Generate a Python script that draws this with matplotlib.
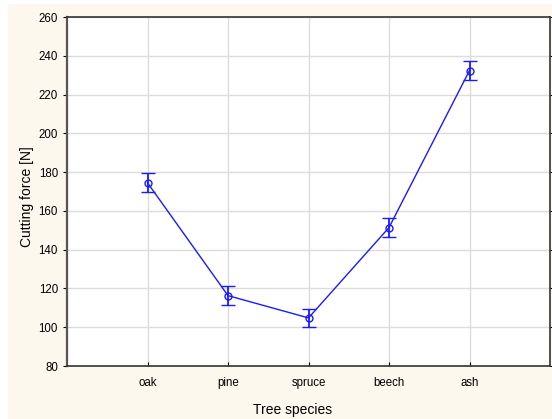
import matplotlib.pyplot as plt

# Datos
species = ['oak', 'pine', 'spruce', 'beech', 'ash']
force_mean = [174.5, 116.3, 104.8, 151.4, 232.4]
force_err = [4.8, 5.0, 4.8, 5.0, 5.0]

plt.rcParams['font.family'] = ['Liberation Sans', 'DejaVu Sans']

fig = plt.figure(figsize=(5.52, 4.19), dpi=100)
fig.patch.set_facecolor('white')
# Fondo crema
bg = fig.add_axes([8 / 552, 0.0, 1 - 8 / 552, 1 - 4 / 419], zorder=-10)
bg.set_facecolor('#fdf8ee')
bg.set_xticks([])
bg.set_yticks([])
for s in bg.spines.values():
    s.set_visible(False)

ax = fig.add_axes([67 / 552, 1 - 366 / 419, (550 - 67) / 552, (366 - 17) / 419])
ax.set_facecolor('white')

x = list(range(len(species)))
ax.errorbar(x, force_mean, yerr=force_err, color='#1a1aff', lw=1.0,
            marker='o', markersize=5, markerfacecolor='none',
            markeredgewidth=1.0, capsize=5, elinewidth=1.3, capthick=1.3)

ax.set_xlim(-1, 5)
ax.set_ylim(80, 260)
ax.set_yticks(range(80, 261, 20))
ax.set_xticks(x)
ax.set_xticklabels(species)
ax.grid(True, color='#dcdcdc', lw=1.0)
ax.set_axisbelow(True)

ax.tick_params(axis='both', labelsize=8.3, colors='black')
ax.tick_params(axis='y', direction='out', length=3, right=True)
ax.tick_params(axis='x', direction='in', length=3, pad=8)
for s in ax.spines.values():
    s.set_color('#333333')
    s.set_linewidth(1.2)
ax.spines['left'].set_color('#555555')
ax.spines['left'].set_linewidth(1.6)

ax.set_xlabel('Tree species', fontsize=10, labelpad=8)
ax.xaxis.set_label_coords(0.466, -0.105)
ax.set_ylabel('Cutting force [N]', fontsize=10)
ax.yaxis.set_label_coords(-0.068, 0.485)

fig.savefig('out.png', dpi=100)
